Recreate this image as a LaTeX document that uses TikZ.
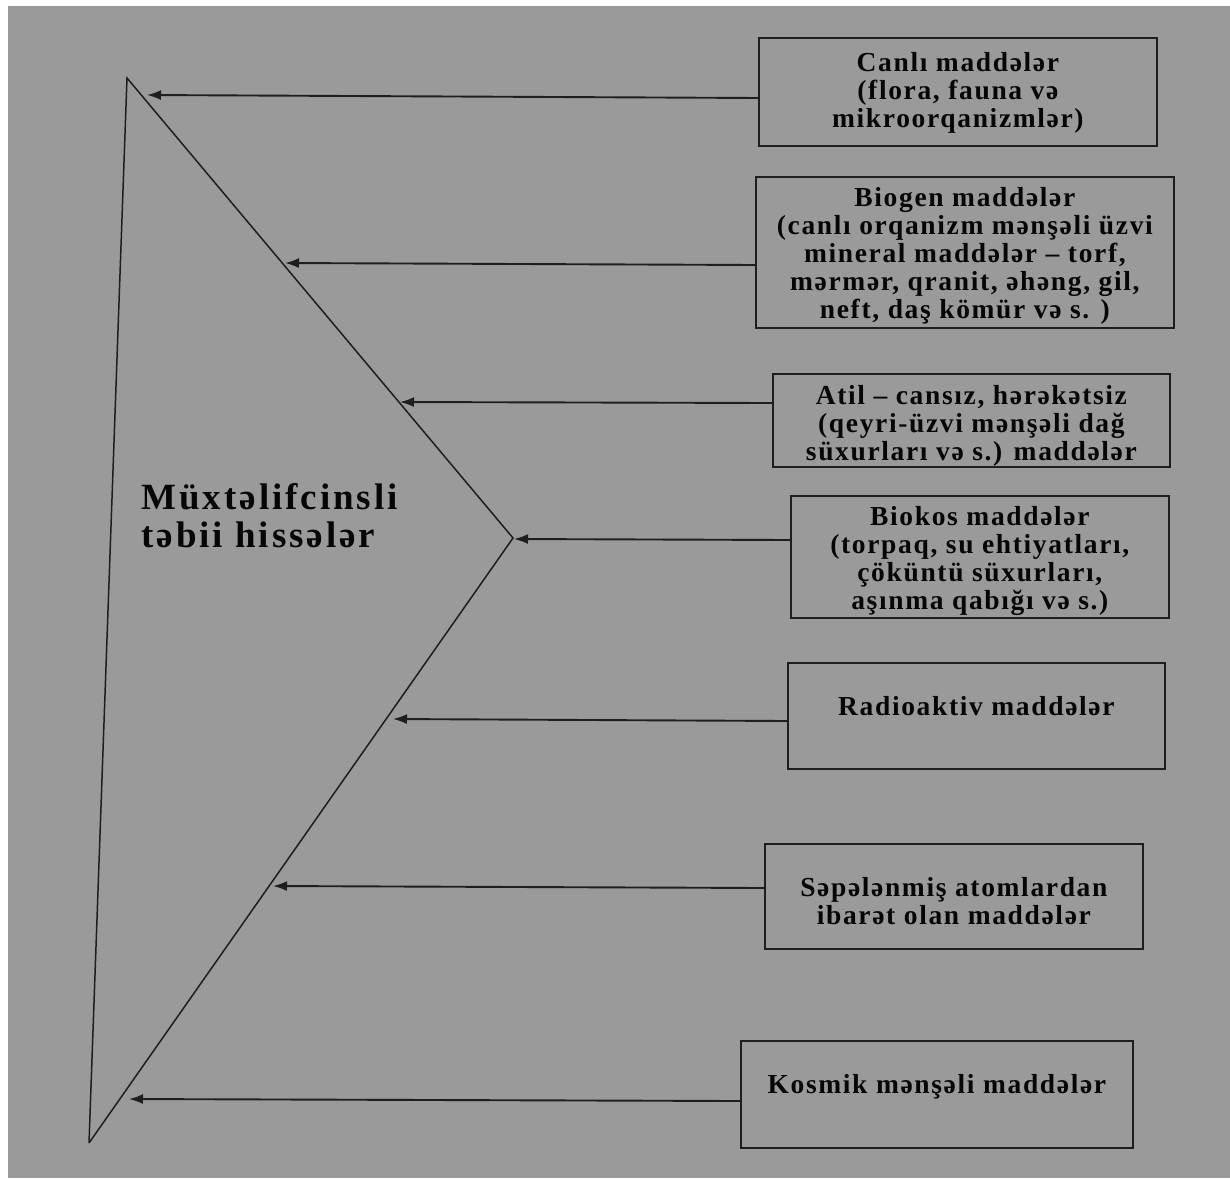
\documentclass[tikz,border=0pt]{standalone}
\usepackage{fontspec}
\setmainfont{Liberation Serif}[LetterSpace=6]
\usetikzlibrary{arrows.meta}
\definecolor{paper}{HTML}{9A9A9A}
\definecolor{ink}{HTML}{060606}
\definecolor{rule}{HTML}{1E1E1E}
\begin{document}
\begin{tikzpicture}[x=1pt,y=-1pt,
  boxfont/.style={font=\fontsize{27.5}{28}\selectfont\bfseries},
  boxstyle/.style={draw=rule,line width=1.7pt,rectangle,inner sep=0pt,anchor=north west},
  boxtext/.style={text=ink,boxfont,align=center,inner sep=0pt},
  arr/.style={draw=rule,line width=1.9pt,-{Latex[length=14pt,width=10pt]}},
  edge/.style={draw=rule,line width=1.5pt,line join=miter}]
% page and paper
\fill[white] (0,0) rectangle (1230,1178);
\fill[paper] (8,6) rectangle (1230,1178);
\useasboundingbox (0,0) rectangle (1230,1178);

% the wedge
\coordinate (top) at (127,78);
\coordinate (apex) at (513,538);
\coordinate (bot) at (89,1143);
\draw[edge] (bot) -- (top) -- (apex) -- (bot);

\node[anchor=west,align=left,text=ink,
  font=\fontsize{37}{38}\selectfont\bfseries\addfontfeature{LetterSpace=8}] (title) at (138,516)
  {Müxtəlifcinsli\\təbii hissələr};

% boxes
\node[boxstyle,minimum width=398pt,minimum height=108pt] (b1) at (758,37) {};
\node[boxstyle,minimum width=418pt,minimum height=151pt] (b2) at (755,176) {};
\node[boxstyle,minimum width=397pt,minimum height=93pt] (b3) at (772,373) {};
\node[boxstyle,minimum width=378pt,minimum height=122pt] (b4) at (790,495) {};
\node[boxstyle,minimum width=377pt,minimum height=106pt] (b5) at (787,662) {};
\node[boxstyle,minimum width=378pt,minimum height=105pt] (b6) at (764,843) {};
\node[boxstyle,minimum width=392pt,minimum height=107pt] (b7) at (740,1040) {};

% box texts
\node[boxtext] (t1) at ([yshift=-1pt]b1.center)
  {Canlı maddələr\\(flora, fauna və\\mikroorqanizmlər)};
\node[boxtext] (t2) at ([yshift=-4pt]b2.center)
  {Biogen maddələr\\(canlı orqanizm mənşəli üzvi\\mineral maddələr – torf,\\mərmər, qranit, əhəng, gil,\\neft, daş kömür və s. )};
\node[boxtext] (t3) at ([yshift=-6pt]b3.center)
  {Atil – cansız, hərəkətsiz\\(qeyri-üzvi mənşəli dağ\\süxurları və s.) maddələr};
\node[boxtext] (t4) at ([yshift=-4pt]b4.center)
  {Biokos maddələr\\(torpaq, su ehtiyatları,\\çöküntü süxurları,\\aşınma qabığı və s.)};
\node[boxtext] (t5) at (b5.center |- 0,706) {Radioaktiv maddələr};
\node[boxtext] (t6) at ([yshift=-5pt]b6.center)
  {Səpələnmiş atomlardan\\ibarət olan maddələr};
\node[boxtext] (t7) at (b7.center |- 0,1087) {Kosmik mənşəli maddələr};

% arrow tips on the wedge
\coordinate (a1) at (147,95);
\coordinate (a2) at (285,263);
\coordinate (a3) at (400,402);
\coordinate (a4) at (514,539);
\coordinate (a5) at (393,719);
\coordinate (a6) at (273,886);
\coordinate (a7) at (129,1099);

\draw[arr] (b1.west |- 0,98) -- (a1);
\draw[arr] (b2.west |- 0,265) -- (a2);
\draw[arr] (b3.west |- 0,403) -- (a3);
\draw[arr] (b4.west |- 0,540) -- (a4);
\draw[arr] (b5.west |- 0,721) -- (a5);
\draw[arr] (b6.west |- 0,888) -- (a6);
\draw[arr] (b7.west |- 0,1101) -- (a7);
\end{tikzpicture}
\end{document}
